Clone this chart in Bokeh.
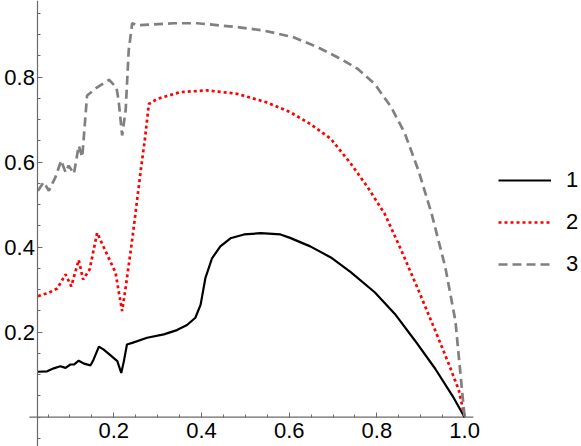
from bokeh.plotting import figure
from bokeh.models import Range1d, FixedTicker, NumeralTickFormatter, Legend, LegendItem
from bokeh.embed import file_html
from bokeh.resources import INLINE

# Series 1 (black solid)
x1 = [0.027, 0.048, 0.063, 0.078, 0.090, 0.101, 0.109, 0.120, 0.132, 0.147, 0.154, 0.166, 0.177,
      0.192, 0.208, 0.217, 0.223, 0.230, 0.242, 0.276, 0.314, 0.344, 0.367, 0.386, 0.398, 0.409,
      0.424, 0.443, 0.466, 0.497, 0.535, 0.580, 0.602, 0.648, 0.695, 0.741, 0.795, 0.841, 0.887,
      0.933, 0.972, 1.0]
y1 = [0.107, 0.108, 0.115, 0.120, 0.116, 0.124, 0.124, 0.133, 0.126, 0.122, 0.136, 0.166, 0.159,
      0.146, 0.132, 0.104, 0.132, 0.171, 0.175, 0.187, 0.195, 0.205, 0.217, 0.234, 0.265, 0.328,
      0.374, 0.402, 0.421, 0.430, 0.433, 0.430, 0.422, 0.402, 0.376, 0.341, 0.294, 0.243, 0.180,
      0.114, 0.051, 0.0]

# Series 2 (red dotted)
x2 = [0.027, 0.052, 0.071, 0.090, 0.103, 0.120, 0.130, 0.145, 0.162, 0.181, 0.204, 0.211, 0.219,
      0.227, 0.242, 0.253, 0.262, 0.271, 0.280, 0.299, 0.352, 0.413, 0.481, 0.548, 0.602, 0.648,
      0.695, 0.741, 0.779, 0.818, 0.856, 0.895, 0.933, 0.964, 0.987, 1.0]
y2 = [0.285, 0.293, 0.303, 0.336, 0.308, 0.370, 0.324, 0.348, 0.434, 0.391, 0.340, 0.297, 0.250,
      0.305, 0.418, 0.510, 0.585, 0.655, 0.737, 0.749, 0.765, 0.769, 0.761, 0.741, 0.718, 0.690,
      0.655, 0.596, 0.541, 0.478, 0.392, 0.298, 0.204, 0.125, 0.063, 0.0]

# Series 3 (gray dashed)
x3 = [0.027, 0.040, 0.052, 0.067, 0.080, 0.090, 0.097, 0.109, 0.120, 0.128, 0.139, 0.162, 0.189,
      0.206, 0.211, 0.219, 0.227, 0.234, 0.242, 0.253, 0.337, 0.390, 0.481, 0.541, 0.610, 0.664,
      0.710, 0.756, 0.795, 0.833, 0.864, 0.895, 0.925, 0.956, 0.979, 1.0]
y3 = [0.533, 0.553, 0.533, 0.565, 0.604, 0.576, 0.592, 0.573, 0.639, 0.612, 0.757, 0.776, 0.794,
      0.776, 0.745, 0.663, 0.722, 0.863, 0.927, 0.922, 0.927, 0.927, 0.918, 0.910, 0.894, 0.871,
      0.847, 0.820, 0.784, 0.729, 0.667, 0.580, 0.478, 0.353, 0.227, 0.0]

series_names = ["1", "2", "3"]
x_major = [0.2, 0.4, 0.6, 0.8, 1.0]
x_minor = [round(0.05 * i, 2) for i in range(1, 21)]
y_major = [0.2, 0.4, 0.6, 0.8]
y_minor = [round(0.05 * i, 2) for i in range(-1, 20)]
x_axis_extent = [0.0075, 1.02]

FONT = "Liberation Sans"
AXIS_COLOR = "#6a6a6a"

p = figure(width=581, height=446, output_backend="svg", toolbar_location=None,
           x_range=Range1d(-0.0584, 1.2666), y_range=Range1d(-0.0689, 0.9805),
           min_border_left=0, min_border_right=0, min_border_top=0, min_border_bottom=0)
p.outline_line_color = None
p.xgrid.visible = False
p.ygrid.visible = False
p.background_fill_color = "white"
p.border_fill_color = "white"

# x axis line limited to the plotted range
p.line(x_axis_extent, [0, 0], line_color=AXIS_COLOR, line_width=1.2)

r1 = p.line(x1, y1, line_color="black", line_width=2.2)
r2 = p.line(x2, y2, line_color="#ff0000", line_width=2.7, line_dash="3 3")
r3 = p.line(x3, y3, line_color="#808080", line_width=2.7, line_dash="9 5")

for ax in (p.xaxis[0], p.yaxis[0]):
    ax.axis_line_color = AXIS_COLOR
    ax.axis_line_width = 1.2
    ax.major_tick_line_color = AXIS_COLOR
    ax.minor_tick_line_color = AXIS_COLOR
    ax.major_tick_in = 5
    ax.major_tick_out = 0
    ax.minor_tick_in = 3
    ax.minor_tick_out = 0
    ax.major_label_text_font = FONT
    ax.major_label_text_font_size = "22px"
    ax.major_label_text_color = "black"
    ax.formatter = NumeralTickFormatter(format="0.0")

p.xaxis[0].axis_line_color = None
p.xaxis[0].ticker = FixedTicker(ticks=x_major, minor_ticks=x_minor)
p.yaxis[0].ticker = FixedTicker(ticks=y_major, minor_ticks=y_minor)
p.xaxis[0].fixed_location = 0
p.yaxis[0].fixed_location = 0.027
p.xaxis[0].major_label_standoff = 6
p.yaxis[0].major_label_standoff = 3

legend = Legend(items=[LegendItem(label=series_names[0], renderers=[r1]),
                       LegendItem(label=series_names[1], renderers=[r2]),
                       LegendItem(label=series_names[2], renderers=[r3])],
                location=(498, 169), orientation="vertical",
                glyph_width=53, glyph_height=22, label_height=22, label_standoff=15,
                spacing=16, padding=0, margin=0,
                border_line_color=None, background_fill_alpha=0,
                label_text_font=FONT, label_text_font_size="22px", label_text_color="black")
p.add_layout(legend, "center")

open("out.html", "w").write(file_html(p, INLINE))
